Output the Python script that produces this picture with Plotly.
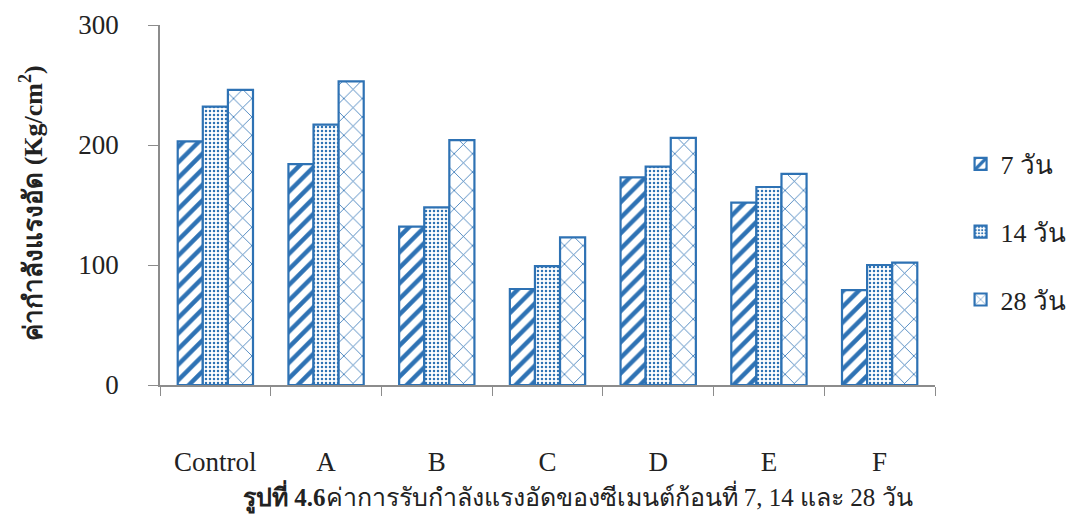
import plotly.graph_objects as go

categories = ["Control", "A", "B", "C", "D", "E", "F"]
days7 = [203, 184, 132, 80, 173, 152, 79]
days14 = [232, 217, 148, 99, 182, 165, 100]
days28 = [246, 253, 204, 123, 206, 176, 102]
series_names = ["7 วัน", "14 วัน", "28 วัน"]
y_ticks = [0, 100, 200, 300]

BLUE = "#2e72b4"
AXIS = "#8c8c8c"
patterns = ["/", ".", "x"]
sizes = [11, 4, 13]
solid = [0.4, 0.3, 0.12]

fig = go.Figure()
for i, (name, vals) in enumerate(zip(series_names, [days7, days14, days28])):
    fig.add_trace(go.Bar(
        x=categories, y=vals, name=name, legendgroup=f"g{i}",
        marker=dict(color="white",
                    line=dict(color=BLUE, width=2.2),
                    pattern=dict(shape=patterns[i], fgcolor=BLUE, bgcolor="white",
                                 fgopacity=1, size=sizes[i], solidity=solid[i],
                                 fillmode="replace")),
    ))

fig.update_layout(
    width=1077, height=520,
    margin=dict(l=152, r=150, t=17, b=143, autoexpand=False),
    paper_bgcolor="white", plot_bgcolor="white",
    barmode="group", bargap=0.32, bargroupgap=0,
    font=dict(family="Liberation Serif, DejaVu Serif", size=27, color="#222"),
    legend=dict(x=1.033, y=0.425, xanchor="left", yanchor="middle",
                traceorder="grouped", tracegroupgap=31,
                font=dict(size=26), itemwidth=30),
    showlegend=True,
)
fig.update_xaxes(
    showline=True, linecolor=AXIS, linewidth=1.5,
    ticks="outside", tickson="boundaries", ticklen=9, tickcolor=AXIS,
    ticklabelstandoff=52, tickfont=dict(size=27), showgrid=False,
)
fig.update_yaxes(
    range=[0, 300], tickvals=y_ticks, showline=True, linecolor=AXIS, linewidth=1.5,
    ticks="outside", ticklen=10, tickcolor=AXIS, showgrid=False, zeroline=False,
    tickfont=dict(size=27), ticklabelstandoff=24,
)
fig.add_annotation(
    xref="paper", yref="paper", x=-0.166, y=0.507, xanchor="center", yanchor="middle",
    textangle=-90, showarrow=False,
    text="<b>ค่ากำลังแรงอัด (Kg/cm<sup>2</sup>)</b>", font=dict(size=26, color="#222"),
)
fig.add_annotation(
    xref="paper", yref="paper", x=0.539, y=-0.311, xanchor="center", yanchor="middle",
    text="<b>รูปที่ 4.6</b>ค่าการรับกำลังแรงอัดของซีเมนต์ก้อนที่ 7, 14 และ 28 วัน",
    showarrow=False, font=dict(size=25, color="#222"),
)
fig.write_html("out.html")
